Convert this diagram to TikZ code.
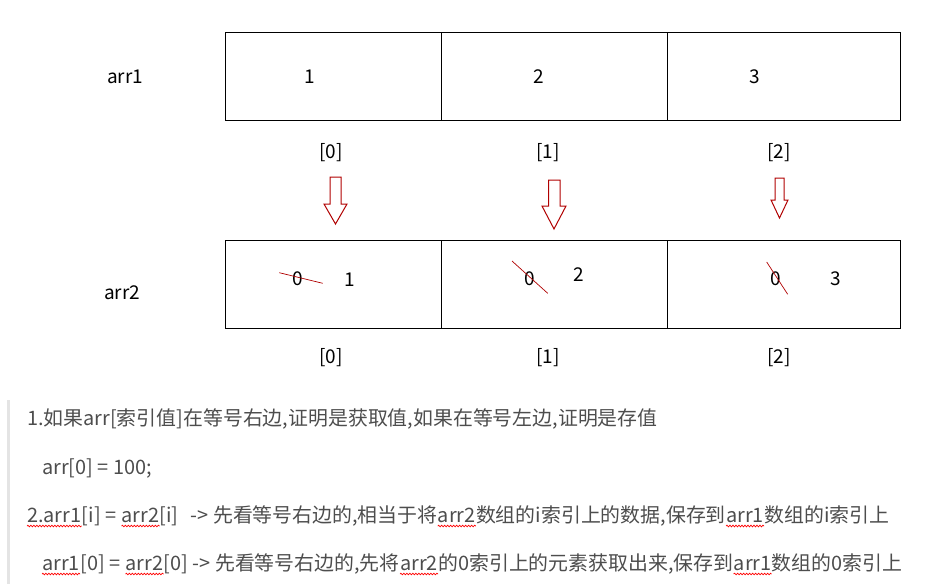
\documentclass[tikz,border=0pt]{standalone}
\usepackage{fontspec}
\setmainfont{Noto Sans CJK SC}
\usepackage{xcolor}
\usetikzlibrary{decorations.pathmorphing}
\definecolor{notegray}{HTML}{4D4D4D}
\definecolor{barcol}{HTML}{E4E4E4}
\definecolor{strikered}{HTML}{B00000}

\begin{document}
\begin{tikzpicture}[x=1pt,y=-1pt,
    cell/.style={draw,line width=1.2pt,minimum height=88pt,inner sep=0pt,anchor=north west},
    lab/.style={font=\fontsize{19}{22}\selectfont,inner sep=0pt},
    note/.style={font=\fontsize{19.9}{22}\selectfont,text=notegray,inner sep=0pt,anchor=base west},
    hollow/.style={draw=strikered,line width=1pt},
    cross/.style={draw=strikered,line width=0.7pt},
    squig/.style={draw=red,line width=0.7pt,decorate,decoration={snake,amplitude=0.8pt,segment length=3pt}}]
    \useasboundingbox (0,0) rectangle (946,584);

    % array arr1
    \node[lab] (arrone) at (125,77) {arr1};
    \node[cell,minimum width=215.7pt] (a0) at (225,32) {};
    \node[cell,minimum width=226.3pt] (a1) at (440.7,32) {};
    \node[cell,minimum width=233pt] (a2) at (667,32) {};
    \node[lab] (v0) at (310,77) {1};
    \node[lab] (v1) at (539,77) {2};
    \node[lab] (v2) at (755,77) {3};
    \node[lab] (i0) at (331,153) {[0]};
    \node[lab] (i1) at (548,153) {[1]};
    \node[lab] (i2) at (779,153) {[2]};

    % hollow arrows
    \draw[hollow] (330,177) -- (341,177) -- (341,204) -- (347,204) -- (335.5,224) -- (324,204) -- (330,204) -- cycle;
    \draw[hollow] (548.5,180) -- (560,180) -- (560,206) -- (566,206) -- (554,229) -- (542,206) -- (548.5,206) -- cycle;
    \draw[hollow] (775,178) -- (784,178) -- (784,200) -- (788,200) -- (779.5,218) -- (771,200) -- (775,200) -- cycle;

    % array arr2
    \node[lab] (arrtwo) at (122,293) {arr2};
    \node[cell,minimum width=215.7pt] (b0) at (225,240) {};
    \node[cell,minimum width=226.3pt] (b1) at (440.7,240) {};
    \node[cell,minimum width=233pt] (b2) at (667,240) {};
    \node[lab] (z0) at (297.5,279) {0};
    \node[lab] (z1) at (530,279) {0};
    \node[lab] (z2) at (776,279) {0};
    \node[lab] (w0) at (350,280) {1};
    \node[lab] (w1) at (579,275) {2};
    \node[lab] (w2) at (836,279) {3};
    \draw[cross] (279.3,272.7) -- (322.7,283.3);
    \draw[cross] (512,261) -- (547.7,293.3);
    \draw[cross] (766.7,262) -- (787.7,294.3);
    \node[lab] (j0) at (331,358) {[0]};
    \node[lab] (j1) at (548,358) {[1]};
    \node[lab] (j2) at (779,358) {[2]};

    % notes
    \fill[barcol] (7,400) rectangle (10,584);
    \node[note] (n1) at (27,425) {1.如果arr[索引值]在等号右边,证明是获取值,如果在等号左边,证明是存值};
    \node[note] (n2) at (42,474) {arr[0] = 100;};
    \node[note] (p1) at (27,522) {2.arr1};
    \node[note] (p2) at (p1.base east) {[i] =\kern5pt};
    \node[note] (p3) at (p2.base east) {arr2};
    \node[note] (p4) at (p3.base east) {[i]\hspace{12pt}-> 先看等号右边的,相当于将};
    \node[note] (p5) at (p4.base east) {arr2};
    \node[note] (p6) at (p5.base east) {数组的i索引上的数据,保存到};
    \node[note] (p7) at (p6.base east) {arr1};
    \node[note] (p8) at (p7.base east) {数组的i索引上};
    \node[note] (q1) at (42,570) {arr1};
    \node[note] (q2) at (q1.base east) {[0] =\kern5pt};
    \node[note] (q3) at (q2.base east) {arr2};
    \node[note] (q4) at (q3.base east) {[0] -> 先看等号右边的,先将};
    \node[note] (q5) at (q4.base east) {arr2};
    \node[note] (q6) at (q5.base east) {的0索引上的元素获取出来,保存到};
    \node[note] (q7) at (q6.base east) {arr1};
    \node[note] (q8) at (q7.base east) {数组的0索引上};
    \foreach \w in {p1,p3,p5,p7,q1,q3,q5,q7}
        \draw[squig] ([yshift=-4pt]\w.base west) -- ([yshift=-4pt]\w.base east);
\end{tikzpicture}
\end{document}
